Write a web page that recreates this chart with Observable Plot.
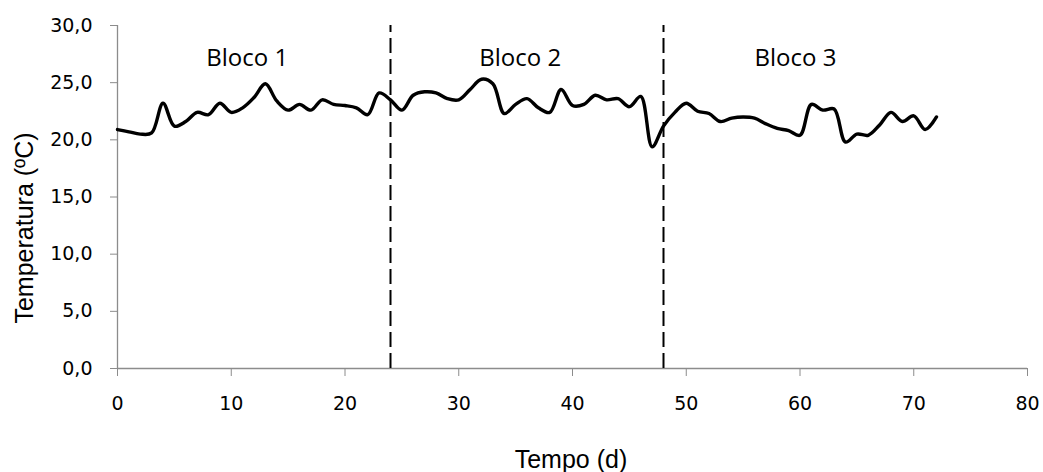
<!DOCTYPE html>
<html>
<head>
<meta charset="utf-8">
<script src="https://cdn.jsdelivr.net/npm/d3@7"></script>
<script src="https://cdn.jsdelivr.net/npm/@observablehq/plot@0.6"></script>
<style>
  html, body { margin: 0; padding: 0; background: #fff; }
  #chart svg { display: block; }
</style>
</head>
<body>
<div id="chart"></div>
<script>
const days = d3.range(0, 73);
const temperatures = [
  20.9, 20.7, 20.5, 20.6, 23.2, 21.2, 21.6, 22.4, 22.2, 23.2,
  22.4, 22.8, 23.7, 24.9, 23.4, 22.6, 23.1, 22.6, 23.5, 23.1,
  23.0, 22.8, 22.2, 24.1, 23.5, 22.6, 23.9, 24.2, 24.1, 23.6,
  23.5, 24.4, 25.3, 24.9, 22.3, 23.1, 23.6, 22.8, 22.4, 24.4,
  23.0, 23.1, 23.9, 23.5, 23.6, 22.9, 23.8, 19.4, 21.2, 22.4,
  23.2, 22.5, 22.3, 21.6, 21.9, 22.0, 21.9, 21.4, 21.0, 20.8,
  20.4, 23.1, 22.6, 22.7, 19.8, 20.5, 20.4, 21.3, 22.4, 21.6,
  22.1, 20.9, 22.0
];
const blockBounds = [24, 48];
const blockLabels = ["Bloco 1", "Bloco 2", "Bloco 3"];
const blockLabelX = [11.4, 35.4, 59.6];
const blockLabelY = [27.1, 27.1, 27.1];
const xTicks = [0, 10, 20, 30, 40, 50, 60, 70, 80];
const yTicks = [0, 5, 10, 15, 20, 25, 30];

const data = days.map((d, i) => ({day: d, temp: temperatures[i]}));
const labels = blockLabels.map((t, i) => ({text: t, x: blockLabelX[i], y: blockLabelY[i]}));
const axisColor = "#8c8c8c";
const tickFont = "'DejaVu Sans', sans-serif";
const fmt = d => d.toFixed(1).replace(".", ",");

const chart = Plot.plot({
  width: 1043,
  height: 472,
  marginLeft: 117,
  marginRight: 16,
  marginTop: 25,
  marginBottom: 104,
  style: {fontFamily: tickFont, fontSize: "19px", color: "#000", background: "#fff"},
  x: {domain: [0, 80], label: null},
  y: {domain: [0, 30], label: null},
  marks: [
    Plot.axisX({ticks: xTicks, tickSize: 8, tickPadding: 20, stroke: axisColor, fill: "#000", fontSize: 19, fontFamily: tickFont, tickFormat: d => String(d), label: null}),
    Plot.axisY({ticks: yTicks, tickSize: 7, tickPadding: 18, stroke: axisColor, fill: "#000", fontSize: 19, fontFamily: tickFont, tickFormat: fmt, label: null}),
    Plot.ruleY([0], {stroke: axisColor, strokeWidth: 1.3}),
    Plot.ruleX([0], {stroke: axisColor, strokeWidth: 1.3}),
    Plot.ruleX(blockBounds, {y1: 0, y2: 30, stroke: "#000", strokeWidth: 2, strokeDasharray: "15,6"}),
    Plot.line(data, {x: "day", y: "temp", stroke: "#000", strokeWidth: 3.4, curve: "catmull-rom"}),
    Plot.text(labels, {x: "x", y: "y", text: "text", fontSize: 24, fontFamily: "'Open Sans', sans-serif", fill: "#000"})
  ]
});

const svg = d3.select(chart);
svg.append("text")
  .attr("transform", "translate(33,228) rotate(-90)")
  .attr("text-anchor", "middle")
  .attr("font-family", "'Liberation Sans', Arial, sans-serif")
  .attr("font-size", 25)
  .attr("fill", "#000")
  .text("Temperatura (ºC)");
svg.append("text")
  .attr("x", 571)
  .attr("y", 468)
  .attr("text-anchor", "middle")
  .attr("font-family", "'Liberation Sans', Arial, sans-serif")
  .attr("font-size", 25)
  .attr("fill", "#000")
  .text("Tempo (d)");

document.getElementById("chart").appendChild(chart);
</script>
</body>
</html>
